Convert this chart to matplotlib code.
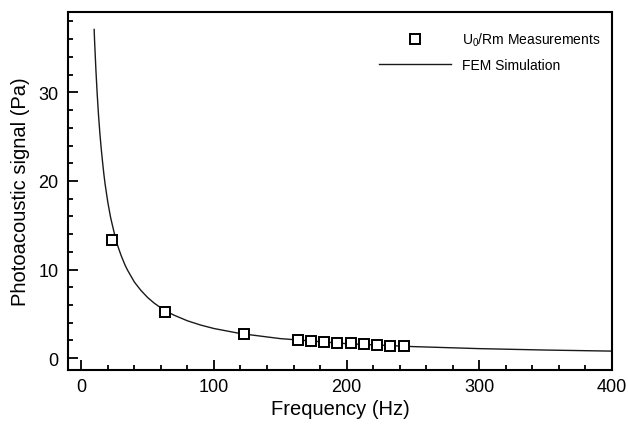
import matplotlib
matplotlib.use("Agg")
import matplotlib.pyplot as plt
from matplotlib.ticker import MultipleLocator

plt.rcParams['font.family'] = ['Liberation Sans', 'DejaVu Sans']
plt.rcParams['mathtext.fontset'] = 'custom'
plt.rcParams['mathtext.rm'] = 'Liberation Sans'
plt.rcParams['mathtext.it'] = 'Liberation Sans:italic'

# Measurements
meas_freq = [23, 63, 123, 163, 173, 183, 193, 203, 213, 223, 233, 243]
meas_signal = [13.3, 5.27, 2.74, 2.07, 1.96, 1.88, 1.77, 1.69, 1.62, 1.54, 1.43, 1.39]

# FEM simulation
fem_freq = [9.7, 10, 11, 12, 13, 14, 15, 16, 17, 18, 20, 22, 23, 26, 28, 30, 33, 35,
            40, 45, 50, 55, 60, 65, 70, 80, 90, 100, 120, 150, 200, 250, 300, 350, 400]
fem_signal = [37.1, 35.9, 32.6, 29.8, 27.4, 25.4, 23.7, 22.2, 20.8, 19.6, 17.6, 15.96,
              15.3, 13.4, 12.45, 11.6, 10.5, 9.9, 8.6, 7.64, 6.85, 6.21, 5.68, 5.23,
              4.85, 4.22, 3.74, 3.35, 2.78, 2.21, 1.64, 1.31, 1.08, 0.92, 0.80]

xticks = [0, 100, 200, 300, 400]
yticks = [0, 10, 20, 30]

fig = plt.figure(figsize=(6.28, 4.27), dpi=100)
ax = fig.add_axes([0.1083, 0.1318, 0.8662, 0.8384])

ax.plot(meas_freq, meas_signal, linestyle='none', marker='s', markersize=6.5,
        markerfacecolor='white', markeredgecolor='black', markeredgewidth=1.4,
        label=r'U$_{\mathit{0}}$/Rm Measurements', zorder=3)
ax.plot(fem_freq, fem_signal, color='#1a1a1a', linewidth=1.0, label='FEM Simulation',
        zorder=2)

ax.set_xlim(-10, 400)
ax.set_ylim(-1.3, 39.1)
ax.set_xticks(xticks)
ax.set_yticks(yticks)
ax.xaxis.set_minor_locator(MultipleLocator(20))
ax.yaxis.set_minor_locator(MultipleLocator(2))

for side in ['left', 'right', 'top', 'bottom']:
    ax.spines[side].set_linewidth(1.5)

ax.tick_params(which='both', direction='in', top=False, right=False, width=1.3,
               labelsize=13)
ax.tick_params(which='major', length=7)
ax.tick_params(which='minor', length=3.5)
ax.tick_params(axis='x', which='major', pad=6)
ax.tick_params(axis='y', which='major', pad=7)

ax.set_xlabel('Frequency (Hz)', fontsize=14.5, labelpad=3)
ax.set_ylabel('Photoacoustic signal (Pa)', fontsize=14.5, labelpad=6)

leg = ax.legend(loc='upper right', bbox_to_anchor=(0.997, 0.975), frameon=False,
                fontsize=10, handlelength=5.2, handletextpad=0.8,
                labelspacing=0.75, borderaxespad=0.3)

fig.savefig('out.png', dpi=100)
